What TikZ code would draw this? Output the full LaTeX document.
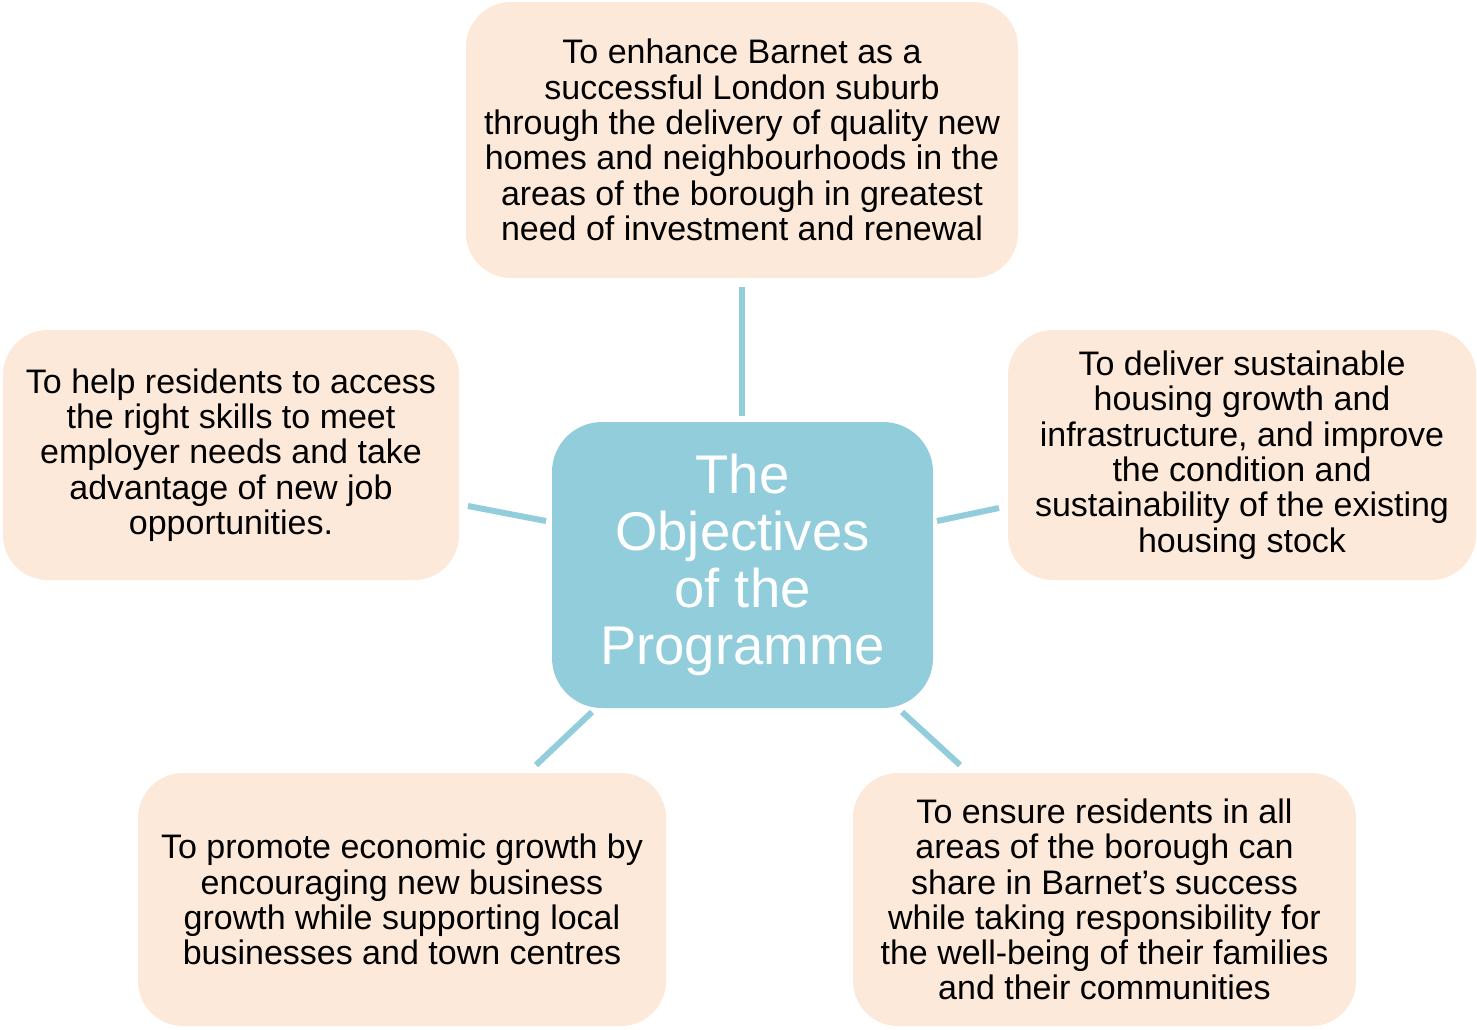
\documentclass[tikz,border=0pt]{standalone}
\usepackage{fontspec}
\setmainfont{Liberation Sans}
\begin{document}
\begin{tikzpicture}[x=1pt,y=-1pt,
  objbox/.style={fill=peach, draw=none, rounded corners=45pt, align=center,
    inner sep=0pt, font=\fontsize{34}{35.3}\selectfont},
  hubbox/.style={fill=hubblue, draw=none, rounded corners=50pt, align=center,
    text=white, inner sep=0pt, font=\fontsize{54.5}{57}\selectfont},
  link/.style={draw=hubblue, line width=6pt}]
\definecolor{peach}{HTML}{FDE9D9}
\definecolor{hubblue}{HTML}{92CDDC}
\useasboundingbox (0,0) rectangle (1477,1029);
\fill[white] (0,0) rectangle (1477,1029);

% outer objectives
\node[objbox, minimum width=552pt, minimum height=276pt] (top) at (742,140)
  {To enhance Barnet as a\\successful London suburb\\through the delivery of quality new\\homes and neighbourhoods in the\\areas of the borough in greatest\\need of investment and renewal};
\node[objbox, minimum width=456pt, minimum height=250pt] (left) at (231,455)
  {To help residents to access\\the right skills to meet\\employer needs and take\\advantage of new job\\opportunities.};
\node[objbox, minimum width=468pt, minimum height=250pt] (right) at (1242,455)
  {To deliver sustainable\\housing growth and\\infrastructure, and improve\\the condition and\\sustainability of the existing\\housing stock};
\node[objbox, minimum width=528pt, minimum height=253pt] (botleft) at (402,899.5)
  {To promote economic growth by\\encouraging new business\\growth while supporting local\\businesses and town centres};
\node[objbox, minimum width=503pt, minimum height=253pt] (botright) at (1104.5,899.5)
  {To ensure residents in all\\areas of the borough can\\share in Barnet’s success\\while taking responsibility for\\the well-being of their families\\and their communities};

% central hub
\node[hubbox, minimum width=381pt, minimum height=286pt] (hub) at (742.5,565)
  {The\\Objectives\\of the\\Programme};

% connector end points
\coordinate (t1) at (742,287);  \coordinate (t2) at (742,416);
\coordinate (l1) at (468,506);  \coordinate (l2) at (546,521);
\coordinate (r1) at (999,508);  \coordinate (r2) at (937,521);
\coordinate (bl1) at (536,765); \coordinate (bl2) at (592,712);
\coordinate (br1) at (960,765); \coordinate (br2) at (902,712);

\draw[link] (t1) -- (t2);
\draw[link] (l1) -- (l2);
\draw[link] (r1) -- (r2);
\draw[link] (bl1) -- (bl2);
\draw[link] (br1) -- (br2);
\end{tikzpicture}
\end{document}
